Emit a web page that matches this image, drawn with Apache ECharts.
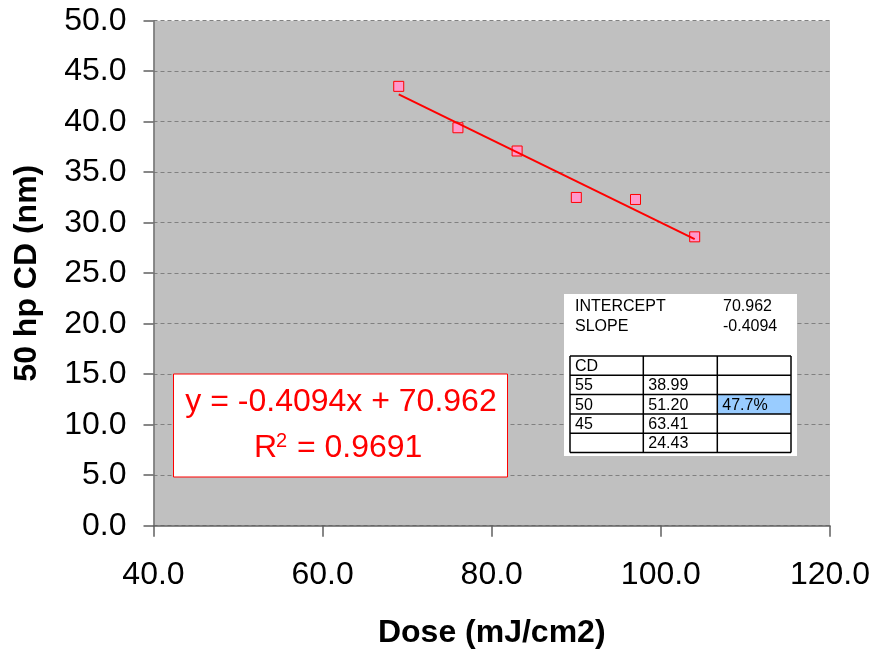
<!DOCTYPE html>
<html>
<head>
<meta charset="utf-8">
<script src="https://cdn.jsdelivr.net/npm/echarts@6/dist/echarts.min.js"></script>
<style>
    html, body { margin: 0; padding: 0; background: #fff; }
    #doseCdEcharts { width: 875px; height: 649px; }
</style>
</head>
<body>
<div id="doseCdEcharts"></div>
<script>
// measured points
var doseValues = [69, 76, 83, 90, 97, 104];
var cdValues = [43.5, 39.4, 37.1, 32.5, 32.3, 28.6];

// linear trend line ends (y = -0.4094x + 70.962)
var trendDose = [69, 104];
var trendCd = [42.71, 28.38];

var equationText = 'y = -0.4094x + 70.962';
var r2Text = '0.9691';

// pasted table
var fitStats = [['INTERCEPT', '70.962'], ['SLOPE', '-0.4094']];
var tableRows = [
    ['CD', '', ''],
    ['55', '38.99', ''],
    ['50', '51.20', '47.7%'],
    ['45', '63.41', ''],
    ['', '24.43', '']
];

var fontName = '"Liberation Sans", Arial, sans-serif';

var scatterData = doseValues.map(function (d, i) { return [d, cdValues[i]]; });
var trendData = trendDose.map(function (d, i) { return [d, trendCd[i]]; });

// table graphics
var tblTop = 356, rowH = 19.3;
var colX = [570, 643.3, 717.3, 791];
var graphics = [];

// equation box
graphics.push({
    type: 'rect', shape: { x: 173.5, y: 374, width: 334, height: 103 },
    style: { fill: '#fff', stroke: '#ff0000', lineWidth: 1 }, z: 100
});
graphics.push({
    type: 'text', x: 341, y: 402, z: 101,
    style: { text: equationText, fill: '#ff0000', font: '32px ' + fontName, textAlign: 'center', textVerticalAlign: 'middle' }
});
graphics.push({
    type: 'text', x: 254, y: 448.5, z: 101,
    style: { text: 'R', fill: '#ff0000', font: '32px ' + fontName, textAlign: 'left', textVerticalAlign: 'middle' }
});
graphics.push({
    type: 'text', x: 276, y: 441, z: 101,
    style: { text: '2', fill: '#ff0000', font: '20px ' + fontName, textAlign: 'left', textVerticalAlign: 'middle' }
});
graphics.push({
    type: 'text', x: 288, y: 448.5, z: 101,
    style: { text: ' = ' + r2Text, fill: '#ff0000', font: '32px ' + fontName, textAlign: 'left', textVerticalAlign: 'middle' }
});

// table panel
graphics.push({
    type: 'rect', shape: { x: 564, y: 294, width: 233, height: 162 },
    style: { fill: '#fff', stroke: null }, z: 100
});
fitStats.forEach(function (r, i) {
    graphics.push({
        type: 'text', x: 575, y: 306.7 + i * 19.5, z: 101,
        style: { text: r[0], fill: '#000', font: '16px ' + fontName, textVerticalAlign: 'middle' }
    });
    graphics.push({
        type: 'text', x: 723, y: 306.7 + i * 19.5, z: 101,
        style: { text: r[1], fill: '#000', font: '16px ' + fontName, textVerticalAlign: 'middle' }
    });
});
// highlighted cell
graphics.push({
    type: 'rect', shape: { x: colX[2], y: tblTop + 2 * rowH, width: colX[3] - colX[2], height: rowH },
    style: { fill: '#99ccff' }, z: 101
});
tableRows.forEach(function (row, ri) {
    row.forEach(function (cell, ci) {
        if (cell === '') return;
        graphics.push({
            type: 'text', x: colX[ci] + 5, y: tblTop + ri * rowH + rowH / 2 + 1, z: 103,
            style: { text: cell, fill: '#000', font: '16px ' + fontName, textVerticalAlign: 'middle' }
        });
    });
});
for (var r = 0; r <= tableRows.length; r++) {
    graphics.push({
        type: 'line', z: 102,
        shape: { x1: colX[0], y1: tblTop + r * rowH, x2: colX[3], y2: tblTop + r * rowH },
        style: { stroke: '#000', lineWidth: 1.5 }
    });
}
for (var c = 0; c < colX.length; c++) {
    graphics.push({
        type: 'line', z: 102,
        shape: { x1: colX[c], y1: tblTop, x2: colX[c], y2: tblTop + tableRows.length * rowH },
        style: { stroke: '#000', lineWidth: 1.5 }
    });
}

var doseCdEcharts = echarts.init(document.getElementById('doseCdEcharts'));
window.addEventListener('resize', function () {
    doseCdEcharts.resize()
});
doseCdEcharts.setOption({
    animation: false,
    backgroundColor: '#fff',
    textStyle: { fontFamily: fontName },
    grid: {
        left: 153.5, right: 45, top: 20.7, bottom: 123.3,
        outerBoundsMode: 'none',
        containLabel: false,
        show: true, backgroundColor: '#c0c0c0', borderWidth: 0
    },
    xAxis: {
        type: 'value', min: 40, max: 120, interval: 20,
        name: 'Dose (mJ/cm2)', nameLocation: 'middle', nameGap: 91,
        nameTextStyle: { fontSize: 32, fontWeight: 'bold', color: '#000', fontFamily: fontName },
        axisLine: { show: true, lineStyle: { color: '#606060', width: 1.5 } },
        axisTick: { show: true, length: 11, lineStyle: { color: '#606060', width: 1.5 } },
        axisLabel: {
            margin: 33, fontSize: 32, color: '#000', fontFamily: fontName,
            formatter: function (v) { return v.toFixed(1); }
        },
        splitLine: { show: false }
    },
    yAxis: {
        type: 'value', min: 0, max: 50, interval: 5,
        name: '50 hp CD (nm)', nameLocation: 'middle', nameGap: 110,
        nameTextStyle: { fontSize: 32, fontWeight: 'bold', color: '#000', fontFamily: fontName },
        axisLine: { show: true, lineStyle: { color: '#707070', width: 1.5 } },
        axisTick: { show: true, length: 10, lineStyle: { color: '#606060', width: 1.5 } },
        axisLabel: {
            margin: 27, fontSize: 32, color: '#000', fontFamily: fontName,
            formatter: function (v) { return v.toFixed(1); }
        },
        splitLine: { show: true, lineStyle: { color: '#808080', type: [4, 3], width: 1 } }
    },
    series: [
        {
            type: 'scatter',
            data: scatterData,
            symbol: 'rect',
            symbolSize: 10,
            itemStyle: { color: '#ff99cc', borderColor: '#ff0000', borderWidth: 1, opacity: 1 },
            z: 2
        },
        {
            type: 'line',
            data: trendData,
            showSymbol: false,
            symbol: 'none',
            lineStyle: { color: '#ff0000', width: 2 },
            z: 3
        }
    ],
    graphic: graphics
})
</script>
</body>
</html>
